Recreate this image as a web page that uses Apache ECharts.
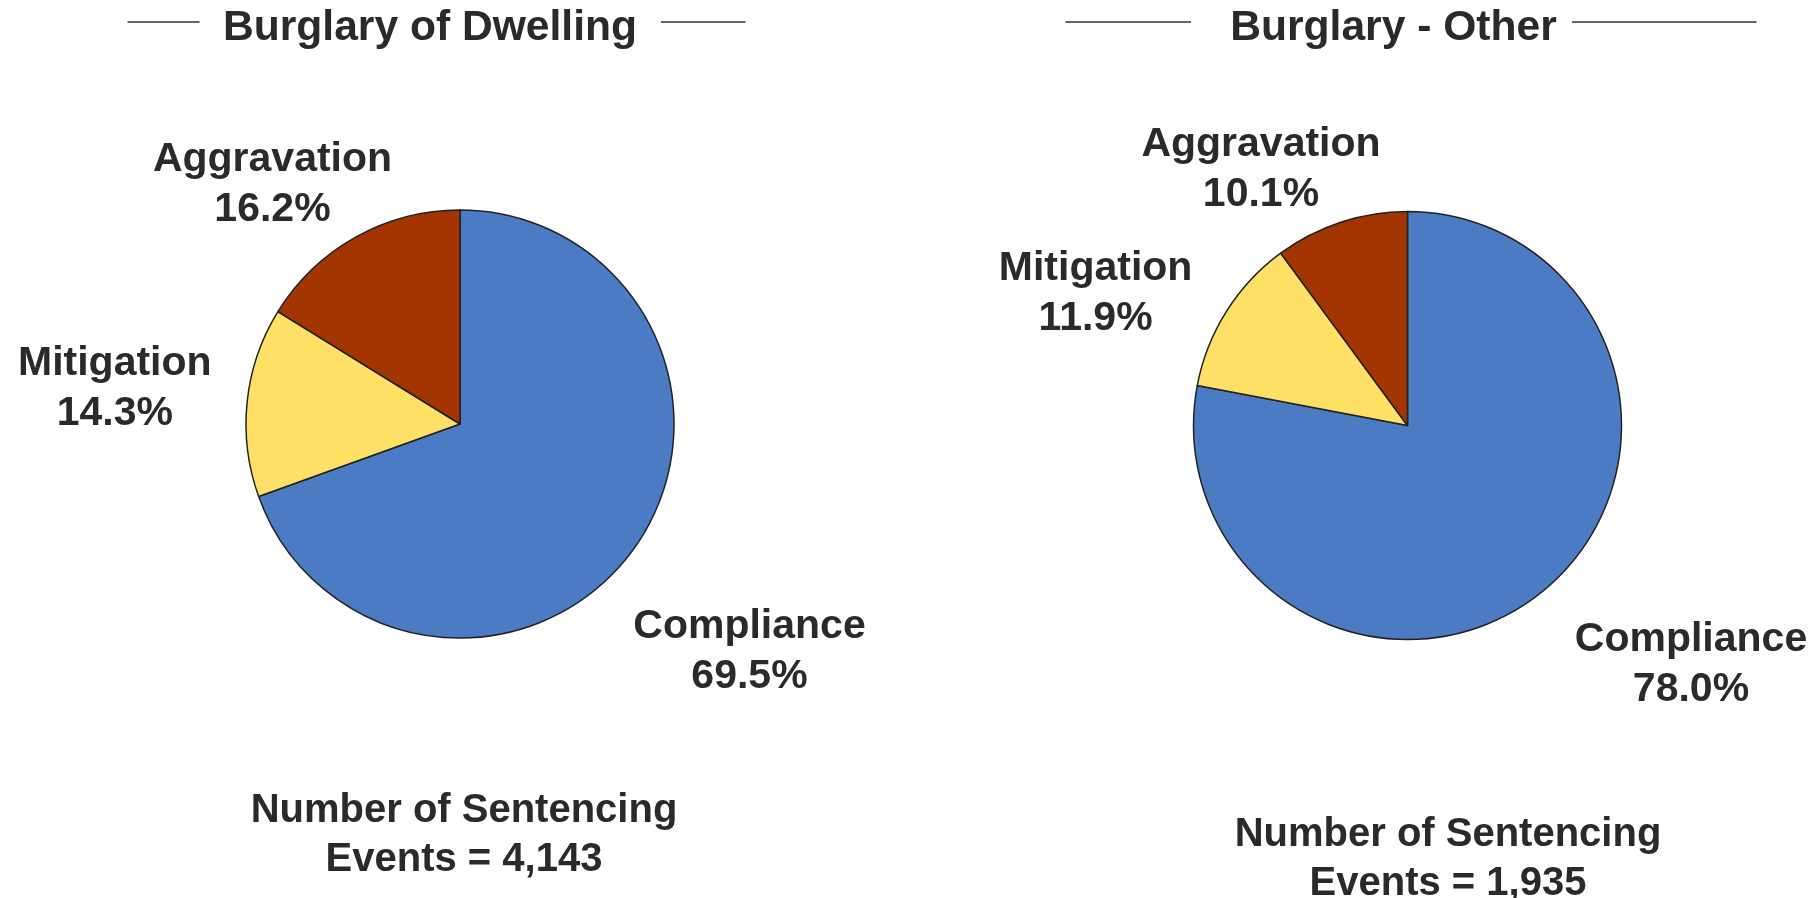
<!DOCTYPE html>
<html>
<head>
<meta charset="utf-8">
<script src="https://cdn.jsdelivr.net/npm/echarts@6/dist/echarts.min.js"></script>
<style>
html,body{margin:0;padding:0;background:#fff;}
#chart{width:1818px;height:898px;}
</style>
</head>
<body>
<div id="chart"></div>
<script>
// ---- data ----
const categories = ['Compliance', 'Mitigation', 'Aggravation'];
const dwellingValues = [69.5, 14.3, 16.2];
const otherValues = [78.0, 11.9, 10.1];
const chartTitles = ['Burglary of Dwelling', 'Burglary - Other'];
const eventCounts = ['4,143', '1,935'];

// ---- layout / style (not data) ----
const colors = ['#4B7BC3', '#FFE066', '#A33600'];
const textColor = '#2a2a2a';
const fontFamily = 'Arial, "Liberation Sans", sans-serif';
const pieCenters = [[460, 424], [1407.5, 425.5]];
const pieRadius = 214;
const labelPositions = [
  [[749.5, 652], [114.8, 389], [272.5, 185]],
  [[1691, 664.5], [1095.6, 294], [1261, 169.5]]
];

const chart = echarts.init(document.getElementById('chart'), null, {renderer: 'canvas'});

function makeSeries(values, idx) {
  return {
    type: 'pie',
    center: pieCenters[idx],
    radius: pieRadius,
    startAngle: 90,
    clockwise: true,
    avoidLabelOverlap: false,
    silent: true,
    animation: false,
    data: categories.map((c, i) => ({
      name: c,
      value: values[i],
      itemStyle: {color: colors[i]}
    })),
    itemStyle: {borderColor: '#222', borderWidth: 1.5},
    label: {
      show: true,
      position: 'outside',
      formatter: p => p.name + '\n' + p.value.toFixed(1) + '%',
      color: textColor,
      fontFamily: fontFamily,
      fontWeight: 'bold',
      fontSize: 41,
      lineHeight: 50,
      align: 'center'
    },
    labelLine: {show: false},
    labelLayout: function (params) {
      const pos = labelPositions[idx][params.dataIndex];
      return {x: pos[0], y: pos[1], align: 'center', verticalAlign: 'middle'};
    }
  };
}

const titleStyle = {color: textColor, fontFamily: fontFamily, fontWeight: 'bold', fontSize: 42.6};
const footStyle = {color: textColor, fontFamily: fontFamily, fontWeight: 'bold', fontSize: 40, lineHeight: 49};

const option = {
  backgroundColor: '#ffffff',
  animation: false,
  title: [
    {text: chartTitles[0], left: 425, top: 1.5, textAlign: 'center', textStyle: titleStyle},
    {text: chartTitles[1], left: 1388.5, top: 1.5, textAlign: 'center', textStyle: titleStyle},
    {text: 'Number of Sentencing\nEvents = ' + eventCounts[0], left: 459, top: 781.5, textAlign: 'center', textStyle: footStyle},
    {text: 'Number of Sentencing\nEvents = ' + eventCounts[1], left: 1443, top: 805.5, textAlign: 'center', textStyle: footStyle}
  ],
  graphic: [
    {type: 'line', shape: {x1: 127.5, y1: 22, x2: 199.5, y2: 22}, style: {stroke: '#333', lineWidth: 1.5}},
    {type: 'line', shape: {x1: 661, y1: 22, x2: 745.5, y2: 22}, style: {stroke: '#333', lineWidth: 1.5}},
    {type: 'line', shape: {x1: 1065.5, y1: 22, x2: 1191, y2: 22}, style: {stroke: '#333', lineWidth: 1.5}},
    {type: 'line', shape: {x1: 1572, y1: 22, x2: 1756.5, y2: 22}, style: {stroke: '#333', lineWidth: 1.5}}
  ],
  series: [makeSeries(dwellingValues, 0), makeSeries(otherValues, 1)]
};

chart.setOption(option);
</script>
</body>
</html>
